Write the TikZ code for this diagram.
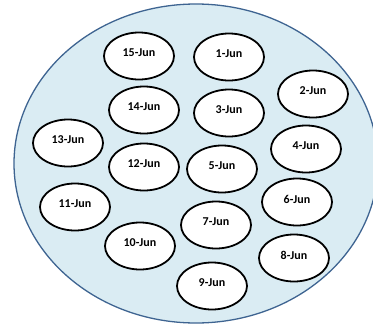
\documentclass[tikz,border=0pt]{standalone}
\usepackage{fontspec}
\setmainfont{Carlito}
\usetikzlibrary{shapes.geometric}
\definecolor{bigfill}{RGB}{218,236,243}
\definecolor{bigline}{RGB}{62,100,145}
\tikzset{
  day/.style={ellipse, draw=black, line width=1.8pt, fill=white,
    minimum width=70pt, minimum height=47pt, inner sep=0pt},
  lab/.style={font=\fontsize{12}{13}\selectfont\bfseries, inner sep=0pt},
}
\begin{document}
\begin{tikzpicture}[x=1pt,y=-1pt]
\useasboundingbox (0,0) rectangle (373,333);
\begin{scope}
\clip (0,0) rectangle (373,333);
\draw[fill=bigfill, draw=bigline, line width=1.3pt] (196,163.5) ellipse [x radius=182, y radius=159.5];
\end{scope}
\node[day] (d15) at (139,56) {};
\node[day] (d1) at (229,57) {};
\node[day] (d2) at (313,94) {};
\node[day] (d14) at (144,110) {};
\node[day] (d3) at (229,113) {};
\node[day] (d13) at (68,143) {};
\node[day] (d4) at (306,149) {};
\node[day] (d12) at (144,167) {};
\node[day] (d5) at (222,169) {};
\node[day] (d6) at (297,202) {};
\node[day] (d11) at (75,207) {};
\node[day] (d7) at (216,225) {};
\node[day] (d10) at (140,246) {};
\node[day] (d8) at (294,258) {};
\node[day] (d9) at (212,286) {};
\node[lab] (t15) at ([yshift=3pt]d15.center) {15-Jun};
\node[lab] (t1) at ([yshift=3pt]d1.center) {1-Jun};
\node[lab] (t2) at ([yshift=3pt]d2.center) {2-Jun};
\node[lab] (t14) at ([yshift=3pt]d14.center) {14-Jun};
\node[lab] (t3) at ([yshift=3pt]d3.center) {3-Jun};
\node[lab] (t13) at ([yshift=3pt]d13.center) {13-Jun};
\node[lab] (t4) at ([yshift=3pt]d4.center) {4-Jun};
\node[lab] (t12) at ([yshift=3pt]d12.center) {12-Jun};
\node[lab] (t5) at ([yshift=3pt]d5.center) {5-Jun};
\node[lab] (t6) at ([yshift=3pt]d6.center) {6-Jun};
\node[lab] (t11) at ([yshift=3pt]d11.center) {11-Jun};
\node[lab] (t7) at ([yshift=3pt]d7.center) {7-Jun};
\node[lab] (t10) at ([yshift=3pt]d10.center) {10-Jun};
\node[lab] (t8) at ([yshift=3pt]d8.center) {8-Jun};
\node[lab] (t9) at ([yshift=3pt]d9.center) {9-Jun};
\end{tikzpicture}
\end{document}
